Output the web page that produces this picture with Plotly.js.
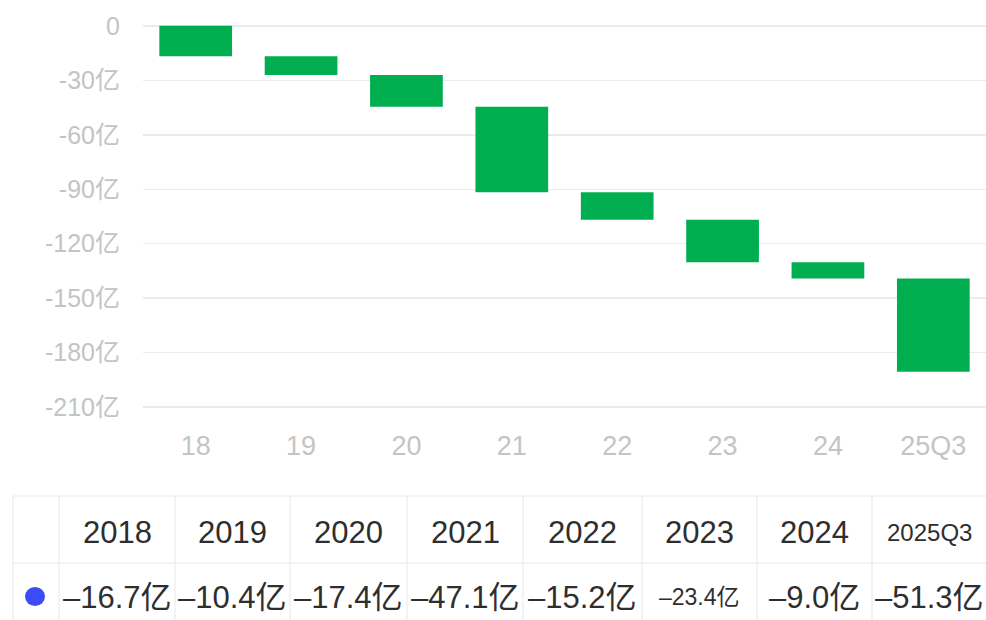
<!DOCTYPE html>
<html>
<head>
<meta charset="utf-8">
<script src="https://cdn.plot.ly/plotly-3.0.1.min.js"></script>
<style>
html,body{margin:0;padding:0;background:#fff;}
#chart{width:986px;height:620px;}
</style>
</head>
<body>
<div id="chart"></div>
<script>
// ---- data ----
const categories = ["18", "19", "20", "21", "22", "23", "24", "25Q3"];
const years = ["2018", "2019", "2020", "2021", "2022", "2023", "2024", "2025Q3"];
const values = [-16.7, -10.4, -17.4, -47.1, -15.2, -23.4, -9.0, -51.3];
const yTickVals = [0, -30, -60, -90, -120, -150, -180, -210];
const yTickText = ["0", "-30亿", "-60亿", "-90亿", "-120亿", "-150亿", "-180亿", "-210亿"];

// ---- styles ----
const W = 986, H = 620;
const M = {l: 143, r: 0, t: 24, b: 211};
const FONT = "Liberation Sans, Arial, Noto Sans CJK SC, sans-serif";
const green = "#00AE4F";
const gridColor = "#ebebeb";
const tableLine = "#efefef";
const colEdges = [13, 59, 175, 290, 407, 523, 642, 757, 872, 986];
const headerY = 532, valueY = 597;
const headerSizes = [31, 31, 31, 31, 31, 31, 31, 24];
const valueSizes = [31, 31, 31, 31, 31, 23, 31, 31];

const trace = {
  type: "waterfall",
  x: categories,
  y: values,
  measure: values.map(() => "relative"),
  decreasing: {marker: {color: green}},
  increasing: {marker: {color: green}},
  connector: {visible: false},
  width: values.map(() => 0.69),
  textinfo: "none",
  hoverinfo: "skip",
  showlegend: false
};

const annotations = [];
const shapes = [];
const plotW = W - M.l - M.r, plotH = H - M.t - M.b;
const px = x => (x - M.l) / plotW;
const py = y => (H - M.b - y) / plotH;

years.forEach((yr, i) => {
  const cx = (colEdges[i + 1] + colEdges[i + 2]) / 2;
  annotations.push({
    xref: "paper", yref: "paper", x: px(cx), y: py(headerY),
    xanchor: "center", yanchor: "middle", showarrow: false,
    text: yr, font: {family: FONT, size: headerSizes[i], color: "#2e2e2e"}
  });
  const v = values[i];
  const label = (v < 0 ? "–" : "") + Math.abs(v).toFixed(1) + "亿";
  annotations.push({
    xref: "paper", yref: "paper", x: px(cx), y: py(valueY),
    xanchor: "center", yanchor: "middle", showarrow: false,
    text: label, font: {family: FONT, size: valueSizes[i], color: "#2e2e2e"}
  });
});

// table lines
[496, 563].forEach(y => shapes.push({
  type: "line", xref: "paper", yref: "paper",
  x0: px(13), x1: px(986), y0: py(y), y1: py(y),
  line: {color: tableLine, width: 1.5}
}));
colEdges.slice(0, -1).forEach(x => shapes.push({
  type: "line", xref: "paper", yref: "paper",
  x0: px(x), x1: px(x), y0: py(496), y1: py(620),
  line: {color: tableLine, width: 1.5}
}));
// blue dot
shapes.push({
  type: "circle", xref: "paper", yref: "paper",
  x0: px(25), x1: px(45), y0: py(587), y1: py(606),
  fillcolor: "#3A4CF5", line: {width: 0}
});

const layout = {
  width: W, height: H,
  margin: M,
  paper_bgcolor: "#ffffff",
  plot_bgcolor: "#ffffff",
  font: {family: FONT},
  xaxis: {
    type: "category",
    range: [-0.5, 7.5],
    showgrid: false, zeroline: false, showline: false,
    ticks: "",
    ticklabelstandoff: 18,
    tickfont: {family: FONT, size: 27, color: "#c4c4c4"}
  },
  yaxis: {
    range: [-211, 1],
    tickvals: yTickVals,
    ticktext: yTickText,
    showgrid: true, gridcolor: gridColor, gridwidth: 1.5,
    zeroline: false, showline: false,
    ticks: "",
    ticklabelstandoff: 22,
    tickfont: {family: FONT, size: 25, color: "#c4c4c4"}
  },
  annotations: annotations,
  shapes: shapes
};

Plotly.newPlot("chart", [trace], layout, {displayModeBar: false, staticPlot: true});
</script>
</body>
</html>
